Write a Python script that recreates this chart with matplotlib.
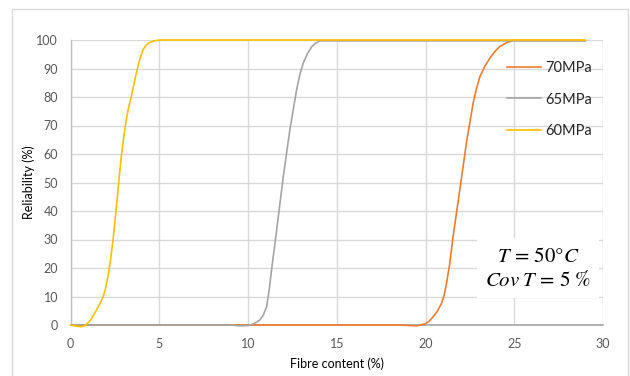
import matplotlib
matplotlib.use("Agg")
import matplotlib.pyplot as plt
from matplotlib.patches import Rectangle

plt.rcParams['font.family'] = ['Lato', 'DejaVu Sans']
plt.rcParams['mathtext.fontset'] = 'stix'

# Data
x_60 = [0, 0.3, 0.6, 0.8, 0.9, 1.05, 1.2, 1.46, 1.65, 1.83, 1.97, 2.1, 2.25, 2.39, 2.57, 2.72, 2.85, 3.0,
        3.13, 3.27, 3.41, 3.65, 3.88, 4.07, 4.25, 4.44, 4.7, 5.0, 29.0]
y_60 = [0, -0.4, -0.6, -0.2, 0.4, 1.2, 2.5, 5.3, 7.5, 10, 13, 17, 23, 30, 41, 51, 59, 66.5,
        72, 76.5, 80, 87, 93, 96.5, 98.2, 99.1, 99.7, 100, 100]

x_65 = [0, 9.0, 9.5, 10.0, 10.25, 10.45, 10.66, 10.85, 11.04, 11.18, 11.32, 11.6, 11.98, 12.35, 12.73,
        12.92, 13.1, 13.35, 13.58, 13.8, 14.05, 29.0]
y_65 = [0, 0, -0.3, -0.2, 0.3, 0.9, 1.75, 3.4, 6.4, 12, 19.3, 33, 52, 68.4, 82.5,
        88, 91.8, 95.3, 97.6, 98.9, 99.7, 99.7]

x_70 = [0, 18.55, 19.5, 19.96, 20.2, 20.43, 20.68, 20.9, 21.05, 21.18, 21.35, 21.55, 21.93, 22.3, 22.68,
        22.87, 23.06, 23.34, 23.62, 23.9, 24.18, 24.6, 24.93, 29.0]
y_70 = [0, 0, -0.3, 0.4, 1.3, 2.9, 5, 7.6, 10.5, 14.6, 21, 31, 47.4, 63.8, 77.8,
        83, 87.1, 90.8, 93.6, 95.9, 97.7, 99.2, 99.8, 99.8]

series = [("70MPa", x_70, y_70, "#ED7D31"),
          ("65MPa", x_65, y_65, "#A5A5A5"),
          ("60MPa", x_60, y_60, "#FFC000")]

xticks = [0, 5, 10, 15, 20, 25, 30]
yticks = [0, 10, 20, 30, 40, 50, 60, 70, 80, 90, 100]

W, H = 630, 376
fig = plt.figure(figsize=(W / 100, H / 100), dpi=100)

# chart frame
fig.patches.append(Rectangle((12 / W, -0.05), (628 - 12) / W, 1.05 - 9 / H,
                             transform=fig.transFigure, fill=False,
                             edgecolor="#D9D9D9", linewidth=1.0))

ax = fig.add_axes([70.7 / W, 1 - 325 / H, (603 - 70.7) / W, (325 - 40) / H])
for i, (name, xs, ys, c) in enumerate(series):
    ax.plot(xs, ys, color=c, linewidth=1.2, label=name, solid_joinstyle='round',
            clip_on=False, zorder=3 + i)

ax.set_xlim(0, 30)
ax.set_ylim(0, 100)
ax.set_xticks(xticks)
ax.set_yticks(yticks)
ax.grid(True, color="#D9D9D9", linewidth=1.0)
ax.set_axisbelow(True)
for s in ['top', 'right']:
    ax.spines[s].set_visible(False)
ax.spines['left'].set_color("#BFBFBF")
ax.spines['left'].set_linewidth(1.0)
ax.spines['bottom'].set_color("#A6A6A6")
ax.spines['bottom'].set_linewidth(1.2)
ax.tick_params(length=0, labelsize=9, colors="#595959", pad=9)

ax.set_xlabel("Fibre content (%)", fontsize=9, color="#000000", labelpad=6)
ax.set_ylabel("Reliability (%)", fontsize=9, color="#000000", labelpad=1)

leg = ax.legend(loc='upper left', bbox_to_anchor=((507 - 70.7) / (603 - 70.7), 1 - (61 - 40) / 285),
                frameon=False, fontsize=10.5, handlelength=2.3, handletextpad=0.3,
                labelspacing=1.2, borderaxespad=0, borderpad=0)
for t in leg.get_texts():
    t.set_color("#262626")

ax.text(0.878, 0.2, "$T\\,=\\,50°C$\n$Cov\\;T\\,=\\,5\\;\\%$", transform=ax.transAxes,
        ha='center', va='center', fontsize=15, multialignment='center', linespacing=1.2,
        bbox=dict(facecolor='white', edgecolor='none', pad=6), zorder=6)

fig.savefig("out.png", dpi=100)
